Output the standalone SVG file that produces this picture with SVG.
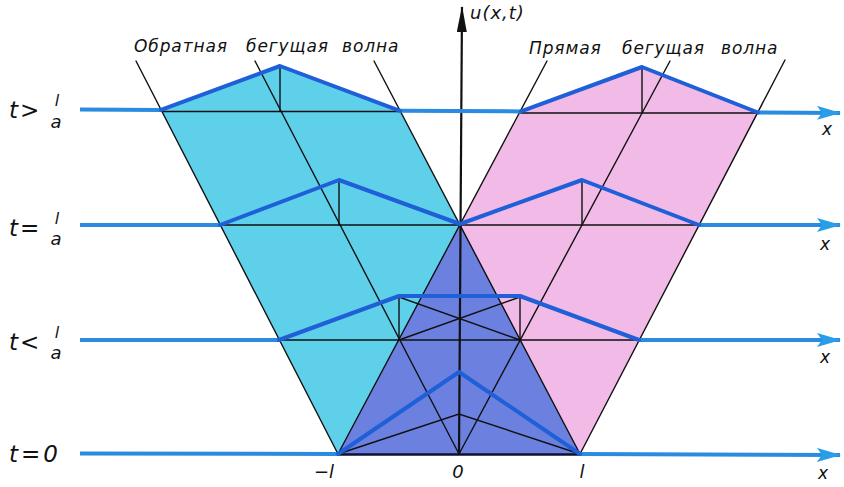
<svg xmlns="http://www.w3.org/2000/svg" width="844" height="487" viewBox="0 0 844 487">
<defs>
<style>
.thin{stroke:#111;stroke-width:1.4;fill:none;stroke-linecap:round}
.base{stroke:#0d1030;stroke-width:2.6;fill:none}
.prof{stroke:#1f5fd8;stroke-width:4;fill:none;stroke-linejoin:round;stroke-linecap:round}
.bl{stroke:#2a8ce0;stroke-width:4;fill:none;stroke-linecap:butt;stroke-linejoin:round}
.lbl{font-family:"DejaVu Sans","Liberation Sans",sans-serif;font-style:italic;fill:#111}
.cap{letter-spacing:0.9px}
</style>
<marker id="xarrow" viewBox="0 0 24 14" refX="23" refY="7" markerWidth="24" markerHeight="14" markerUnits="userSpaceOnUse" orient="auto">
<path d="M0,0 L24,7 L0,14 L5,7 Z" fill="#2a9de8"/>
</marker>
<marker id="uarrow" viewBox="0 0 26 10" refX="25" refY="5" markerWidth="26" markerHeight="10" markerUnits="userSpaceOnUse" orient="auto">
<path d="M0,0 L26,5 L0,10 Z" fill="#111"/>
</marker>
</defs>
<rect width="844" height="487" fill="#ffffff"/>

<g id="regions">
<polygon id="backward-band" points="338,454 161,110 280,66 400,111 580,454" fill="#5fd0ea"/>
<polygon id="forward-band" points="580,454 758,112.5 642,67 521,111.4 338,454" fill="#f1bae7"/>
<polygon id="overlap" points="338,454 460,224 580,454" fill="#6b80df"/>
</g>

<g id="connectors">
<line class="thin" x1="338" y1="454" x2="136" y2="61"/>
<line class="thin" x1="459" y1="454" x2="255" y2="61"/>
<line class="thin" x1="580" y1="454" x2="374" y2="61"/>
<line class="thin" x1="338" y1="454" x2="547" y2="61"/>
<line class="thin" x1="459" y1="454" x2="670" y2="61"/>
<line class="thin" x1="580" y1="454" x2="785" y2="60"/>
<line class="thin" x1="163" y1="111.5" x2="400" y2="111.5"/>
<line class="thin" x1="521" y1="113" x2="758" y2="113"/>
<line class="thin" x1="220" y1="225" x2="699" y2="225"/>
<line class="thin" x1="279" y1="340" x2="639" y2="340"/>
<line class="base" x1="338" y1="454.5" x2="580" y2="454.5"/>
<line class="thin" x1="280" y1="67" x2="280" y2="111.5"/>
<line class="thin" x1="642" y1="68" x2="642" y2="113"/>
<line class="thin" x1="339" y1="181" x2="339" y2="225"/>
<line class="thin" x1="582" y1="181" x2="582" y2="225"/>
<line class="thin" x1="399" y1="297" x2="399" y2="340"/>
<line class="thin" x1="520" y1="297" x2="520" y2="340"/>
<polyline class="thin" points="279,340 399,297 520,340"/>
<polyline class="thin" points="399,340 520,297 639,340"/>
<polyline class="thin" points="338,454 459,414 580,454"/>
</g>

<g id="u-axis">
<line x1="459" y1="454" x2="462" y2="7" stroke="#111" stroke-width="2.2" marker-end="url(#uarrow)"/>
</g>

<g id="waves">
<g id="level-3">
<line class="bl" x1="80" y1="109.5" x2="161" y2="109.9"/>
<line class="bl" x1="400" y1="110.8" x2="521" y2="111.4"/>
<line class="bl" x1="758" y1="112.5" x2="840" y2="113" marker-end="url(#xarrow)"/>
<polyline class="prof" points="161,109.9 280,66 400,110.8"/>
<polyline class="prof" points="521,111.4 642,67 758,112.5"/>
</g>
<g id="level-2">
<line class="bl" x1="80" y1="225" x2="220" y2="225"/>
<line class="bl" x1="699" y1="225" x2="840" y2="225" marker-end="url(#xarrow)"/>
<polyline class="prof" points="220,225 339,180 460,224 582,180 699,225"/>
</g>
<g id="level-1">
<line class="bl" x1="80" y1="340" x2="279" y2="340"/>
<line class="bl" x1="639" y1="340" x2="840" y2="340" marker-end="url(#xarrow)"/>
<polyline class="prof" points="279,340 399,296 520,296 639,340"/>
</g>
<g id="level-0">
<line class="bl" x1="80" y1="453.5" x2="338" y2="454"/>
<line class="bl" x1="580" y1="454" x2="840" y2="455" marker-end="url(#xarrow)"/>
<polyline class="prof" points="338,454 459,372 580,454"/>
</g>
</g>

<g id="labels">
<text class="lbl cap" font-size="17"><tspan x="134" y="52">Обратная</tspan><tspan x="246" y="52">бегущая</tspan><tspan x="342" y="52">волна</tspan></text>
<text class="lbl cap" font-size="17"><tspan x="529" y="54">Прямая</tspan><tspan x="622" y="54">бегущая</tspan><tspan x="721" y="54">волна</tspan></text>
<text class="lbl" font-size="18" x="470" y="19" letter-spacing="1">u(x,t)</text>

<text class="lbl" font-size="23" x="9" y="118" letter-spacing="2">t&gt;</text>
<text class="lbl" font-size="16" x="57" y="106" text-anchor="middle">l</text>
<text class="lbl" font-size="18" x="56" y="128" text-anchor="middle">a</text>

<text class="lbl" font-size="23" x="9" y="236" letter-spacing="2">t=</text>
<text class="lbl" font-size="16" x="57" y="224" text-anchor="middle">l</text>
<text class="lbl" font-size="18" x="56" y="245" text-anchor="middle">a</text>

<text class="lbl" font-size="23" x="9" y="350" letter-spacing="2">t&lt;</text>
<text class="lbl" font-size="16" x="57" y="338" text-anchor="middle">l</text>
<text class="lbl" font-size="18" x="56" y="359" text-anchor="middle">a</text>

<text class="lbl" font-size="23" x="9" y="462" letter-spacing="3">t=0</text>

<text class="lbl" font-size="17" x="822" y="135">x</text>
<text class="lbl" font-size="17" x="820" y="250">x</text>
<text class="lbl" font-size="17" x="820" y="363">x</text>
<text class="lbl" font-size="17" x="818" y="479">x</text>

<text class="lbl" font-size="18" x="314" y="478">−l</text>
<text class="lbl" font-size="18" x="458" y="478" text-anchor="middle">0</text>
<text class="lbl" font-size="18" x="582" y="478" text-anchor="middle">l</text>
</g>
</svg>
